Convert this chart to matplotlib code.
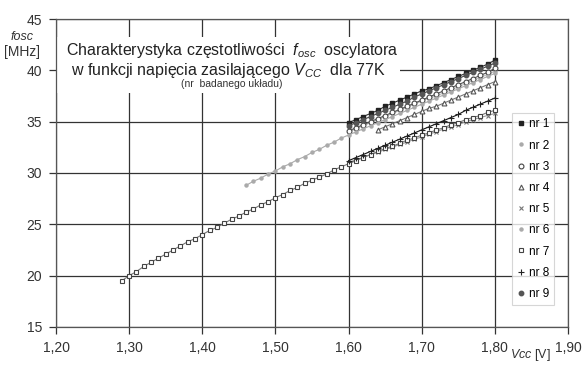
import matplotlib
matplotlib.use("Agg")
import matplotlib.pyplot as plt
from matplotlib.ticker import FuncFormatter
from matplotlib.patches import Rectangle

plt.rcParams['font.family'] = ['Liberation Sans', 'DejaVu Sans']
plt.rcParams['mathtext.fontset'] = 'custom'
plt.rcParams['mathtext.rm'] = 'Liberation Sans'
plt.rcParams['mathtext.it'] = 'Liberation Sans:italic'

# ---- data ----
v7 = [1.29, 1.30, 1.31, 1.32, 1.33, 1.34, 1.35, 1.36, 1.37, 1.38, 1.39, 1.40,
      1.41, 1.42, 1.43, 1.44, 1.45, 1.46, 1.47, 1.48, 1.49, 1.50, 1.51, 1.52,
      1.53, 1.54, 1.55, 1.56, 1.57, 1.58, 1.59, 1.60, 1.61, 1.62, 1.63, 1.64,
      1.65, 1.66, 1.67, 1.68, 1.69, 1.70, 1.71, 1.72, 1.73, 1.74, 1.75, 1.76,
      1.77, 1.78, 1.79, 1.80]
f7 = [19.5, 20.0, 20.4, 20.9, 21.3, 21.7, 22.1, 22.5, 22.9, 23.3, 23.6, 24.0,
      24.4, 24.7, 25.1, 25.5, 25.8, 26.2, 26.5, 26.9, 27.2, 27.6, 27.9, 28.3,
      28.6, 29.0, 29.3, 29.6, 29.9, 30.3, 30.6, 30.9, 31.2, 31.5, 31.8, 32.1,
      32.4, 32.6, 32.9, 33.2, 33.4, 33.7, 33.9, 34.2, 34.4, 34.7, 34.9, 35.2,
      35.4, 35.6, 35.9, 36.1]

v6 = [1.46, 1.47, 1.48, 1.49, 1.50, 1.51, 1.52, 1.53, 1.54, 1.55, 1.56, 1.57,
      1.58, 1.59, 1.60, 1.61, 1.62, 1.63, 1.64, 1.65, 1.66, 1.67, 1.68, 1.69,
      1.70, 1.71, 1.72, 1.73, 1.74, 1.75, 1.76, 1.77, 1.78, 1.79, 1.80]
f6 = [28.8, 29.2, 29.5, 29.9, 30.2, 30.6, 30.9, 31.3, 31.6, 32.0, 32.3, 32.7,
      33.0, 33.4, 33.7, 34.0, 34.3, 34.6, 34.9, 35.2, 35.5, 35.8, 36.1, 36.4,
      36.7, 37.0, 37.3, 37.6, 37.9, 38.2, 38.5, 38.8, 39.1, 39.4, 39.7]

v_up = [1.60, 1.61, 1.62, 1.63, 1.64, 1.65, 1.66, 1.67, 1.68, 1.69, 1.70,
        1.71, 1.72, 1.73, 1.74, 1.75, 1.76, 1.77, 1.78, 1.79, 1.80]
f1 = [34.9, 35.2, 35.5, 35.8, 36.1, 36.5, 36.8, 37.1, 37.4, 37.7, 38.0,
      38.2, 38.5, 38.8, 39.1, 39.4, 39.7, 40.0, 40.3, 40.6, 41.0]
f9 = [34.6, 34.9, 35.2, 35.5, 35.8, 36.1, 36.4, 36.7, 37.0, 37.4, 37.7,
      38.0, 38.3, 38.6, 38.9, 39.2, 39.5, 39.8, 40.1, 40.4, 40.7]
f3 = [34.1, 34.4, 34.7, 35.0, 35.3, 35.6, 35.9, 36.2, 36.5, 36.8, 37.1,
      37.4, 37.7, 38.0, 38.3, 38.6, 38.9, 39.2, 39.5, 39.8, 40.2]
f2 = [34.0, 34.3, 34.6, 34.9, 35.2, 35.5, 35.8, 36.1, 36.4, 36.7, 37.0,
      37.3, 37.5, 37.8, 38.1, 38.4, 38.7, 39.0, 39.3, 39.6, 39.9]

v4 = [1.64, 1.65, 1.66, 1.67, 1.68, 1.69, 1.70, 1.71, 1.72, 1.73, 1.74,
      1.75, 1.76, 1.77, 1.78, 1.79, 1.80]
f4 = [34.2, 34.5, 34.8, 35.1, 35.4, 35.7, 36.0, 36.3, 36.5, 36.8, 37.1,
      37.4, 37.7, 38.0, 38.3, 38.6, 38.9]

v_lo = [1.60, 1.61, 1.62, 1.63, 1.64, 1.65, 1.66, 1.67, 1.68, 1.69, 1.70,
        1.71, 1.72, 1.73, 1.74, 1.75, 1.76, 1.77, 1.78, 1.79, 1.80]
f8 = [31.2, 31.5, 31.8, 32.1, 32.4, 32.7, 33.0, 33.3, 33.6, 33.9, 34.2,
      34.5, 34.8, 35.1, 35.4, 35.7, 36.1, 36.4, 36.7, 37.0, 37.3]
f5 = [31.0, 31.3, 31.5, 31.8, 32.0, 32.3, 32.5, 32.8, 33.0, 33.3, 33.5,
      33.8, 34.0, 34.3, 34.5, 34.7, 35.0, 35.2, 35.4, 35.6, 35.8]

labels = ['nr 1', 'nr 2', 'nr 3', 'nr 4', 'nr 5', 'nr 6', 'nr 7', 'nr 8', 'nr 9']
x_ticks = [1.20, 1.30, 1.40, 1.50, 1.60, 1.70, 1.80, 1.90]
y_ticks = [15, 20, 25, 30, 35, 40, 45]

# ---- figure ----
W, H = 582, 365
fig = plt.figure(figsize=(W/100, H/100), dpi=100)
ax = fig.add_axes([56/W, 1-327/H, (568-56)/W, (327-19)/H])

series = [
    (v_up, f1, dict(marker='s', ms=3, mfc='#222222', mec='#222222', color='#333333')),
    (v_up, f2, dict(marker='o', ms=2.2, mfc='#aaaaaa', mec='#aaaaaa', color='#bbbbbb')),
    (v_up, f3, dict(marker='o', ms=3.5, mfc='white', mec='#444444', mew=0.8, color='#555555')),
    (v4, f4, dict(marker='^', ms=3.5, mfc='white', mec='#555555', mew=0.8, color='#777777')),
    (v_lo, f5, dict(marker='x', ms=3.5, mec='#777777', mew=0.8, color='#999999')),
    (v6, f6, dict(marker='o', ms=2.2, mfc='#aaaaaa', mec='#aaaaaa', color='#aaaaaa')),
    (v7, f7, dict(marker='s', ms=3.5, mfc='white', mec='#444444', mew=0.8, color='#777777')),
    (v_lo, f8, dict(marker='+', ms=4, mec='#222222', mew=0.8, color='#111111')),
    (v_up, f9, dict(marker='o', ms=3.2, mfc='#555555', mec='#555555', color='#444444')),
]
for (xs, ys, st), lab in zip(series, labels):
    ax.plot(xs, ys, lw=0.8, label=lab, zorder=3, **st)

ax.set_xlim(1.20, 1.90)
ax.set_ylim(15, 45)
ax.set_xticks(x_ticks)
ax.set_yticks(y_ticks)
ax.xaxis.set_major_formatter(FuncFormatter(lambda v, p: f"{v:.2f}".replace('.', ',')))
ax.yaxis.set_major_formatter(FuncFormatter(lambda v, p: f"{v:.0f}"))
ax.grid(True, color='#333333', lw=0.9)
ax.set_axisbelow(True)
for s in ax.spines.values():
    s.set_color('#555555')
    s.set_linewidth(0.9)
ax.tick_params(direction='out', length=5, width=0.9, color='#333333',
               labelsize=10, labelcolor='#333333', pad=5)

# white box behind the title (covers grid lines)
ax.add_patch(Rectangle((57/W, 1-93/H), (400-57)/W, (93-37)/H,
                       transform=fig.transFigure, facecolor='white',
                       edgecolor='none', zorder=1))

# title texts
fig.text(232/W, 1-51/H, r"Charakterystyka częstotliwości  $\it{f}_{\it{osc}}$  oscylatora",
         ha='center', va='center', fontsize=11.5, color='#222222')
fig.text(228/W, 1-70/H, r"w funkcji napięcia zasilającego $\it{V}_{\it{CC}}$  dla 77K",
         ha='center', va='center', fontsize=11.5, color='#222222')
fig.text(232/W, 1-84/H, "(nr  badanego układu)", ha='center', va='center',
         fontsize=7.5, color='#333333')

# axis labels
fig.text(22/W, 1-37/H, "fosc", ha='center', va='center', fontsize=9,
         style='italic', color='#333333')
fig.text(22/W, 1-52/H, "[MHz]", ha='center', va='center', fontsize=10,
         color='#333333')
fig.text(551/W, 1-355/H, r"$\it{Vcc}$ [V]", ha='right', va='center', fontsize=9,
         color='#333333')

leg = ax.legend(loc='upper left', bbox_to_anchor=(512/W, 1-113/H),
                bbox_transform=fig.transFigure, frameon=True, fancybox=False,
                fontsize=8.5, handlelength=0.6, handletextpad=0.35,
                labelspacing=0.78, borderpad=0.45, borderaxespad=0,
                markerscale=1.0)
leg.get_frame().set_edgecolor('#cccccc')
leg.get_frame().set_linewidth(0.8)
for line in leg.get_lines():
    line.set_linestyle('none')

fig.savefig("out.png", dpi=100)
